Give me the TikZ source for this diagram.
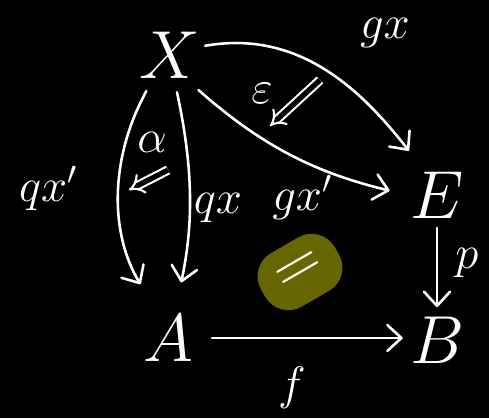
\documentclass[tikz,border=0pt]{standalone}
\usepackage{fix-cm}
\usetikzlibrary{arrows.meta}
\definecolor{blobolive}{RGB}{104,102,0}

\begin{document}
\begin{tikzpicture}[
  x=0.03cm, y=0.03cm,
  obj/.style={text=white, inner sep=2pt, font=\fontsize{58}{60}\selectfont},
  lbl/.style={text=white, inner sep=1pt, font=\fontsize{40}{44}\selectfont},
  arrow/.style={white, line width=2.2pt, line cap=round,
    -{Straight Barb[round, length=12pt, width=22pt]}},
  twocell/.style={white, double=black, double distance=4.5pt, line width=1.8pt,
    -{Implies[round]}},
  blob/.style={fill=blobolive, rounded corners=0.8cm, minimum width=2.55cm,
    minimum height=1.85cm, inner sep=0pt},
  eqsign/.style={text=white, inner sep=0pt, font=\fontsize{56}{58}\selectfont}
]
% background and frame of the page
\fill[black] (0,0) rectangle (489,418);
\useasboundingbox (0,0) rectangle (489,418);

% objects
\node[obj] (X) at (170,363) {$X$};
\node[obj] (E) at (437,223) {$E$};
\node[obj] (A) at (168,80)  {$A$};
\node[obj] (B) at (437,78)  {$B$};

% connectors
\draw[arrow, shorten <=2pt, shorten >=20pt] (X.15) to[out=10, in=128] (E.118);
\draw[arrow, shorten <=12pt, shorten >=16pt] (X.-55) to[bend right=14] (E.west);
\draw[arrow, shorten <=10pt, shorten >=28pt] (X.-125) to[bend right=30] (A.112);
\draw[arrow, shorten <=10pt, shorten >=26pt] (X.-80) to[bend left=12] (A.75);
\draw[arrow, shorten <=6pt, shorten >=6pt] (E) -- (B);
\draw[arrow, shorten <=14pt, shorten >=4pt] (A.east) -- (B.west |- A.east);

% labels
\node[lbl] (gxl)  at (385,385) {$gx$};
\node[lbl] (gxpl) at (302,221) {$gx'$};
\node[lbl] (qxl)  at (218,210) {$qx$};
\node[lbl] (qxpl) at (48,230)  {$qx'$};
\node[lbl] (pl)   at (467,155) {$p$};
\node[lbl] (fl)   at (292,30)  {$f$};
\node[lbl] (epsl) at (262,325) {$\varepsilon$};
\node[lbl] (alpl) at (152,276) {$\alpha$};

% two-cells
\coordinate (eps1) at (320,338);
\coordinate (eps2) at (270,292);
\coordinate (alp1) at (168,248);
\coordinate (alp2) at (129,228);
\draw[twocell] (eps1) -- (eps2);
\draw[twocell] (alp1) -- (alp2);

% the equality cell
\node[blob, rotate=30] (eqbg) at (300,146) {};
\node[eqsign, rotate=30] (eq) at (eqbg.center) {$=$};
\end{tikzpicture}
\end{document}
